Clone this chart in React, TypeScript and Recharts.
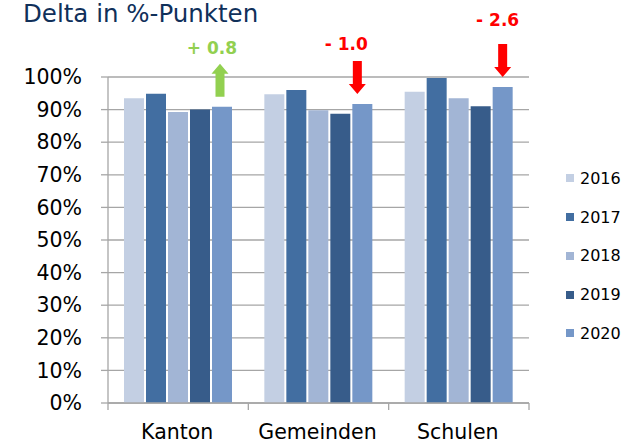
import React from "react";
import { BarChart, Bar, XAxis, YAxis, CartesianGrid, Legend, LabelList } from "recharts";

const categories = ["Kanton", "Gemeinden", "Schulen"];
const years = ["2016", "2017", "2018", "2019", "2020"];
const v2016 = [93.5, 94.7, 95.5];
const v2017 = [94.9, 96.0, 99.7];
const v2018 = [89.3, 89.8, 93.5];
const v2019 = [90.0, 88.7, 91.0];
const v2020 = [90.9, 91.7, 96.9];
const yTicks = [0, 10, 20, 30, 40, 50, 60, 70, 80, 90, 100];
const deltaLabels = ["+ 0.8", "- 1.0", "- 2.6"];
const deltaUp = [true, false, false];

const COLORS = ["#C3CFE3", "#426EA1", "#A2B5D5", "#375C8A", "#7597C8"];
const GRID = "#A6A6A6";
const FONT = "'DejaVu Sans', Verdana, sans-serif";

const series = [v2016, v2017, v2018, v2019, v2020];
const data = categories.map((c, i) => {
  const row: Record<string, string | number> = { category: c };
  years.forEach((y, k) => {
    row[y] = series[k][i];
  });
  return row;
});

// small layout tweaks for the annotation arrows
const arrowDx = [-2, -5, 0];
const textDx = [-8, -11, -5];
const textGap = [16, 17, 24];

function DeltaMark(props: any) {
  const { x, y, width, index } = props;
  if (index == null) return null;
  const up = deltaUp[index];
  const color = up ? "#92D050" : "#FF0000";
  const cx = x + width / 2 + arrowDx[index];
  const bottom = y - 10;
  const top = bottom - 33;
  const shaft = 4.5;
  const head = 8.5;
  const headH = 10;
  let path: string;
  if (up) {
    path = `M${cx - shaft},${bottom} L${cx - shaft},${top + headH} L${cx - head},${top + headH} L${cx},${top} L${cx + head},${top + headH} L${cx + shaft},${top + headH} L${cx + shaft},${bottom} Z`;
  } else {
    path = `M${cx - shaft},${top} L${cx - shaft},${bottom - headH} L${cx - head},${bottom - headH} L${cx},${bottom} L${cx + head},${bottom - headH} L${cx + shaft},${bottom - headH} L${cx + shaft},${top} Z`;
  }
  return (
    <g>
      <path d={path} fill={color} />
      <text
        x={cx + textDx[index]}
        y={top - textGap[index]}
        textAnchor="middle"
        dominantBaseline="central"
        fontSize={17}
        fontWeight="bold"
        fill={color}
        fontFamily={FONT}
      >
        {deltaLabels[index]}
      </text>
    </g>
  );
}

// category label plus tick marks on the band edges
function CategoryTick(props: any) {
  const { x, y, payload, index } = props;
  const half = payload?.offset ?? 0;
  const axisY = y - 21;
  return (
    <g>
      <line x1={x - half} x2={x - half} y1={axisY} y2={axisY + 7} stroke={GRID} strokeWidth={1.3} />
      {index === categories.length - 1 && (
        <line x1={x + half} x2={x + half} y1={axisY} y2={axisY + 7} stroke={GRID} strokeWidth={1.3} />
      )}
      <text x={x - 1} y={y} dy="0.71em" textAnchor="middle" fontSize={20.5} fill="#000" fontFamily={FONT}>
        {payload.value}
      </text>
    </g>
  );
}

function LegendBox(props: any) {
  const payload = props.payload || [];
  return (
    <div style={{ fontFamily: FONT }}>
      {payload.map((p: any) => (
        <div key={p.value} style={{ height: 38.75, display: "flex", alignItems: "center" }}>
          <span style={{ width: 8, height: 8, background: p.color, display: "inline-block", marginRight: 6 }} />
          <span style={{ fontSize: 16, color: "#000" }}>{p.value}</span>
        </div>
      ))}
    </div>
  );
}

export default function App() {
  return (
    <div style={{ position: "absolute", left: 0, top: 0, width: 623, height: 445, background: "#fff" }}>
      <div
        style={{
          position: "absolute",
          left: 23,
          top: -1,
          fontFamily: FONT,
          fontSize: 24.5,
          color: "#10305A",
          lineHeight: "30px",
          whiteSpace: "nowrap",
        }}
      >
        Delta in %-Punkten
      </div>
      <BarChart
        width={623}
        height={445}
        data={data}
        margin={{ top: 77, right: 94, left: 0, bottom: 0 }}
        barCategoryGap={16}
        barGap={2}
        style={{ fontFamily: FONT }}
      >
        <CartesianGrid vertical={false} stroke={GRID} strokeWidth={1.3} />
        <XAxis
          dataKey="category"
          height={42}
          tickLine={false}
          tickSize={0}
          tickMargin={21}
          stroke={GRID}
          strokeWidth={1.3}
          tick={<CategoryTick />}
        />
        <YAxis
          width={108}
          domain={[0, 100]}
          ticks={yTicks}
          interval={0}
          tickFormatter={(v: number) => `${v}%`}
          tick={{ fontSize: 20.5, fill: "#000" }}
          tickSize={7}
          tickMargin={19}
          stroke={GRID}
          strokeWidth={1.3}
        />
        <Legend
          layout="vertical"
          align="center"
          verticalAlign="middle"
          content={<LegendBox />}
          wrapperStyle={{ position: "absolute", left: 566, top: 159, width: 57 }}
        />
        {years.map((y, k) => (
          <Bar key={y} dataKey={y} name={y} fill={COLORS[k]} isAnimationActive={false}>
            {k === 4 && <LabelList dataKey={y} content={<DeltaMark />} />}
          </Bar>
        ))}
      </BarChart>
    </div>
  );
}
